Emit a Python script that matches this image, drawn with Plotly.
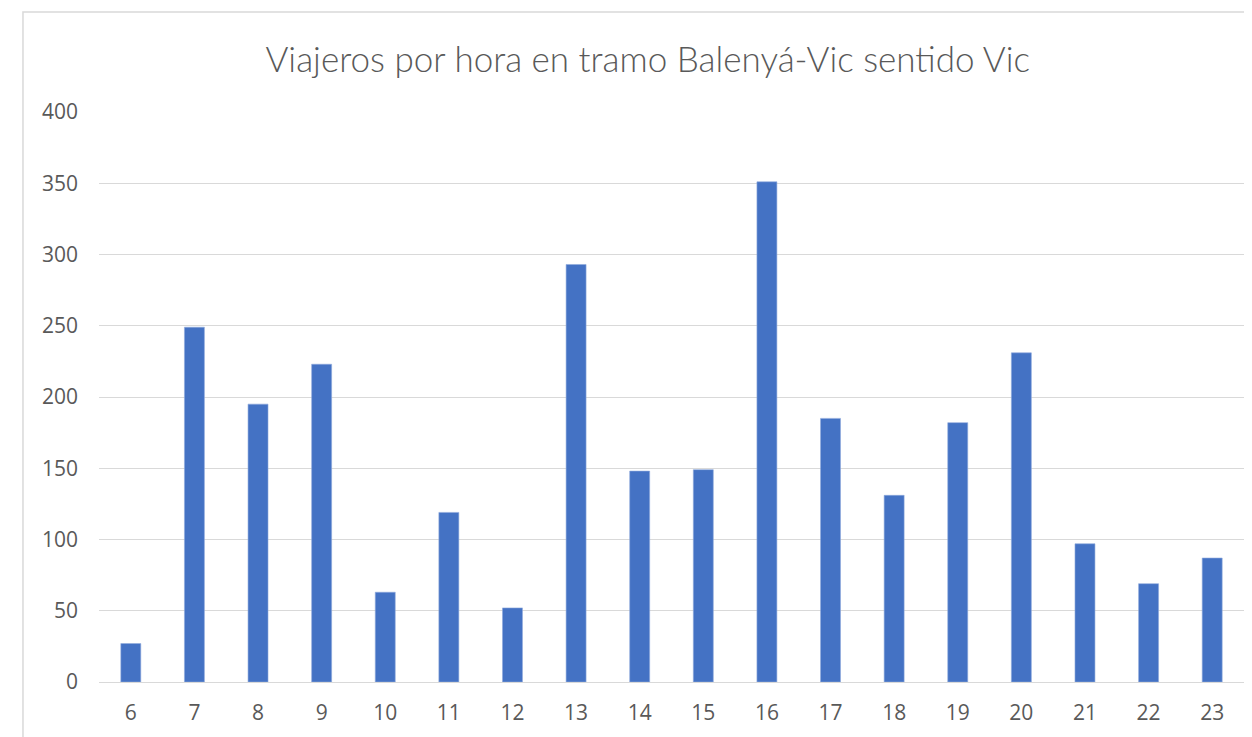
import plotly.graph_objects as go

hours = ["6", "7", "8", "9", "10", "11", "12", "13", "14", "15", "16", "17", "18", "19", "20", "21", "22", "23"]
viajeros = [27, 249, 195, 223, 63, 119, 52, 293, 148, 149, 351, 185, 131, 182, 231, 97, 69, 87]
y_ticks = [0, 50, 100, 150, 200, 250, 300, 350, 400]

title_text = "Viajeros por hora en tramo Balenyá-Vic sentido Vic"

fig = go.Figure(
    go.Bar(
        x=hours,
        y=viajeros,
        marker=dict(color="#4472C4", line=dict(width=0.6, color="#8FAADC")),
        hoverinfo="x+y",
    )
)

fig.update_layout(
    width=1252,
    height=737,
    paper_bgcolor="white",
    plot_bgcolor="white",
    margin=dict(l=91, r=16, t=104, b=63),
    bargap=0.686,
    showlegend=False,
    title=dict(
        text=title_text,
        x=0.511,
        xanchor="center",
        y=0.93,
        yanchor="middle",
        font=dict(family="Lato", size=35, color="#595959", weight=300),
    ),
    font=dict(family="Open Sans", color="#595959"),
    shapes=[
        dict(
            type="rect",
            xref="paper",
            yref="paper",
            x0=-0.0664,
            x1=1.2,
            y0=-0.3,
            y1=1.1754,
            line=dict(color="#D9D9D9", width=1.5),
            fillcolor="rgba(0,0,0,0)",
            layer="below",
        )
    ],
)

fig.update_xaxes(
    type="category",
    showgrid=False,
    showline=True,
    linecolor="#D9D9D9",
    linewidth=1,
    ticks="",
    tickfont=dict(family="Open Sans", size=21, color="#595959"),
    ticklabelstandoff=12,
)

fig.update_yaxes(
    range=[0, 400],
    tickvals=y_ticks,
    showgrid=True,
    gridcolor="#D9D9D9",
    gridwidth=1,
    zeroline=False,
    showline=False,
    ticks="",
    tickfont=dict(family="Open Sans", size=21, color="#595959"),
    ticklabelstandoff=20,
)

fig.write_html("out.html")
